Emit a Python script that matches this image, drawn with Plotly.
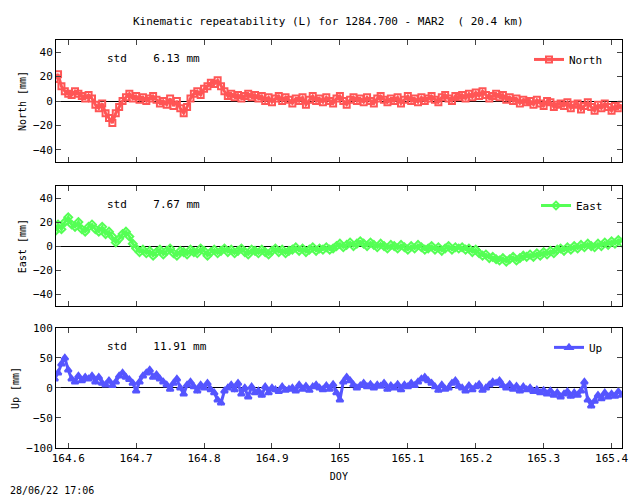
import numpy as np
import plotly.graph_objects as go

# time grid (DOY), 0.005 d sampling
doy = np.round(164.58 + 0.005 * np.arange(168), 3)

north = [18, 22, 12, 8, 6, 5, 8, 6, 4, 2,
         5, 2, -3, -6, -2, -10, -14, -18, -10, -5,
         0, 3, 6, 2, 4, 1, 3, 0, 2, 4,
         1, -2, 0, -3, 2, -4, 0, -6, -10, -5,
         2, 6, 8, 5, 10, 12, 15, 14, 17, 12,
         8, 4, 6, 3, 5, 2, 4, 6, 3, 5,
         2, 4, 0, 3, -1, 2, 4, 0, 3, 1,
         -2, 2, 0, 3, -3, 1, 4, 0, 2, -1,
         3, 0, -2, 2, 4, 0, -3, 1, 3, 0,
         2, -1, 3, 0, -2, 2, 4, 1, -1, 2,
         0, 3, -2, 1, 4, 0, 2, -1, 3, 0,
         2, 4, 1, -1, 3, 5, 2, 0, 4, 3,
         5, 2, 6, 3, 7, 4, 8, 5, 2, 4,
         6, 3, 5, 1, 3, 0, 2, -2, 1, -1,
         0, -3, 1, -2, -4, 0, -1, -5, -3, -2,
         -4, -1, -6, -3, -2, -7, -4, -1, -5, -8,
         -3, -6, -2, -5, -8, -4, -6, -3]

east = [12, 18, 14, 20, 24, 18, 16, 20, 14, 12,
        16, 18, 14, 12, 16, 10, 12, 8, 3, 6,
        10, 12, 8, 2, -2, -5, -3, -6, -4, -8,
        -5, -3, -7, -4, -2, -6, -8, -4, -5, -7,
        -3, -5, -6, -2, -4, -8, -5, -3, -6, -4,
        -2, -5, -3, -6, -4, -2, -5, -7, -3, -4,
        -6, -3, -5, -7, -4, -2, -5, -3, -6, -4,
        -3, -1, -4, -2, -5, -3, -1, -4, -2, -3,
        -1, -3, -2, 0, 2, -1, 1, 3, 0, 2,
        4, 2, 0, 3, 1, -1, 2, 0, -2, 1,
        0, -2, 1, -1, -3, 0, -2, 1, -1, -3,
        -2, 0, -3, -1, -4, -2, 0, -3, -1, -2,
        -1, -3, -2, -5, -3, -6, -8, -7, -10, -9,
        -11, -12, -10, -13, -11, -9, -12, -10, -8, -9,
        -7, -9, -6, -8, -5, -7, -4, -6, -3, -2,
        -4, -1, -3, 0, -2, 1, -1, 2, 0, -1,
        2, 0, 3, 1, 4, 2, 5, 3]

up = [15, 25, 40, 50, 30, 15, 10, 20, 12, 18,
      15, 20, 10, 18, 8, 5, 12, 4, 10, 20,
      25, 18, 14, 8, -5, 10, 20, 25, 30, 18,
      22, 15, 10, 5, -2, 8, 15, 0, -10, 5,
      10, 2, -5, 5, 0, 8, -3, -8, -20, -25,
      -5, 0, 5, -3, 8, -10, 0, -15, 2, -8,
      -5, -12, 2, -8, 0, -3, -6, 2, -4, -2,
      0, -5, 5, -2, 3, -4, 2, 5, 0, -3,
      4, -2, 6, -8, -20, 10, 18, 12, 5, 0,
      4, 8, 2, 6, 0, 5, 3, 8, -2, 4,
      0, 6, -3, 5, 2, 8, 4, 10, 15, 18,
      12, 8, 2, -4, 5, -2, 0, 8, 12, 3,
      0, -5, 4, -3, 2, 6, -4, 0, 5, 10,
      8, 12, 4, 0, 6, -2, 3, -5, 2, -3,
      0, -6, -3, -8, -4, -10, -5, -12, -8, -15,
      -10, -6, -14, -8, -12, -5, 10, -20, -30, -22,
      -12, -18, -8, -15, -10, -14, -6, -12]

panels = [
    ("North", north, "#ff5555", "square-open", "6.13", [-50, 50], [-40, -20, 0, 20, 40], [0.6895, 0.9355]),
    ("East", east, "#55ff55", "diamond-open", "7.67", [-50, 50], [-40, -20, 0, 20, 40], [0.399, 0.641]),
    ("Up", up, "#5555ff", "triangle-up", "11.91", [-100, 100], [-100, -50, 0, 50, 100], [0.113, 0.355]),
]

FONT = "DejaVu Sans Mono"
xr = [164.582, 165.415]
fig = go.Figure()
lay = {}
for i, (name, vals, col, sym, std, yr, yt, dom) in enumerate(panels, start=1):
    sfx = "" if i == 1 else str(i)
    fig.add_trace(go.Scatter(
        x=doy, y=vals, name=name, mode="lines+markers", showlegend=True,
        line=dict(color=col, width=3),
        marker=dict(color=col, symbol=sym, size=6, line=dict(width=2, color=col)),
        xaxis="x" + sfx, yaxis="y" + sfx, legend="legend" + sfx))
    lay["xaxis" + sfx] = dict(domain=[0.075, 0.959], range=xr, anchor="y" + sfx, automargin=False,
                              showline=True, mirror="ticks", linecolor="black", ticks="inside",
                              showgrid=False, zeroline=False,
                              tickvals=[164.6, 164.7, 164.8, 164.9, 165, 165.1, 165.2, 165.3, 165.4],
                              ticktext=["164.6", "164.7", "164.8", "164.9", "165", "165.1", "165.2", "165.3", "165.4"],
                              showticklabels=(i == 3),
                              title=dict(text="DOY", standoff=8, font=dict(size=10)) if i == 3 else None)
    lay["yaxis" + sfx] = dict(domain=dom, range=yr, anchor="x" + sfx, tickvals=yt, automargin=False,
                              showline=True, mirror="ticks", linecolor="black", ticks="inside",
                              showgrid=False, zeroline=True, zerolinecolor="black", zerolinewidth=1,
                              title=dict(text=f"{name} [mm]", standoff=4, font=dict(size=10)))
    lay["legend" + sfx] = dict(x=0.9375, y=dom[1] - 0.01, xanchor="right", yanchor="top",
                               bgcolor="rgba(0,0,0,0)", itemwidth=30, font=dict(size=11))
    fig.add_annotation(text=f"std    {std} mm", xref="paper", yref="paper",
                       x=0.152, y=dom[1] - 0.02, xanchor="left", yanchor="top",
                       showarrow=False, font=dict(size=11))

fig.add_annotation(text="Kinematic repeatability (L) for 1284.700 - MAR2  ( 20.4 km)",
                   xref="paper", yref="paper", x=0.5, y=0.972, yanchor="middle",
                   showarrow=False, font=dict(size=11))
fig.add_annotation(text="28/06/22 17:06", xref="paper", yref="paper", x=0.0, y=0.028,
                   xanchor="left", yanchor="middle", showarrow=False, font=dict(size=10))

fig.update_layout(width=640, height=496, margin=dict(l=0, r=0, t=0, b=0),
                  plot_bgcolor="white", paper_bgcolor="white",
                  font=dict(family=FONT, size=11, color="black"), **lay)
fig.write_html("out.html")
